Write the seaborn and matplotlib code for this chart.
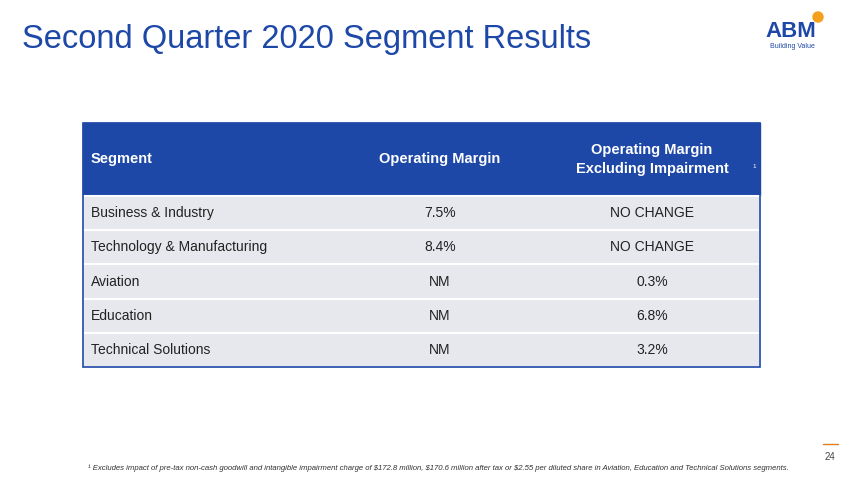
import matplotlib
matplotlib.use("Agg")
import matplotlib.pyplot as plt
import seaborn as sns
from matplotlib.patches import Rectangle, Circle

# Table contents
segments = ["Business & Industry", "Technology & Manufacturing", "Aviation",
            "Education", "Technical Solutions"]
operating_margin = ["7.5%", "8.4%", "NM", "NM", "NM"]
margin_ex_impairment = ["NO CHANGE", "NO CHANGE", "0.3%", "6.8%", "3.2%"]
headers = ["Segment", "Operating Margin", "Operating Margin\nExcluding Impairment"]

TITLE = "Second Quarter 2020 Segment Results"
FOOTNOTE = ("¹ Excludes impact of pre-tax non-cash goodwill and intangible impairment charge of "
            "$172.8 million, $170.6 million after tax or $2.55 per diluted share in Aviation, "
            "Education and Technical Solutions segments.")
PAGE = "24"

BLUE = "#1d48a8"
ROW_FILL = "#e7e8ee"

sns.set_theme(style="white")
plt.rcParams["font.family"] = ["Liberation Sans", "DejaVu Sans"]

fig = plt.figure(figsize=(8.5, 4.79), dpi=100)
ax = fig.add_axes([0, 0, 1, 1])
ax.set_xlim(0, 850)
ax.set_ylim(479, 0)
ax.axis("off")

# title and logo
ax.text(22, 39, TITLE, color=BLUE, fontsize=23.5, va="center", ha="left")
ax.text(791, 31, "ABM", color=BLUE, fontsize=16, fontweight="bold", ha="center", va="center")
ax.add_patch(Circle((818, 17), 5, color="#f5a01a"))
ax.text(792, 46.5, "Building Value", color=BLUE, fontsize=5, ha="center", va="center")

# table geometry
left, right = 83, 760
head_top, head_bot = 123, 196
row_h = 34.2
col_x = [91, 440, 652]

ax.add_patch(Rectangle((left, head_top), right - left, head_bot - head_top, color=BLUE))
ax.text(col_x[0], 159.5, headers[0], color="white", fontsize=10.5, fontweight="bold",
        ha="left", va="center")
ax.text(col_x[1], 159.5, headers[1], color="white", fontsize=10.5, fontweight="bold",
        ha="center", va="center")
ax.text(col_x[2], 159.5, headers[2], color="white", fontsize=10.5, fontweight="bold",
        ha="center", va="center", linespacing=1.4)
ax.text(752, 166, "1", color="white", fontsize=4.5, ha="left", va="center")

for i, (seg, om, ex) in enumerate(zip(segments, operating_margin, margin_ex_impairment)):
    y0 = head_bot + i * row_h
    ax.add_patch(Rectangle((left, y0), right - left, row_h, facecolor=ROW_FILL,
                           edgecolor="white", lw=1.5))
    yc = y0 + row_h / 2
    ax.text(col_x[0], yc, seg, fontsize=10, color="#222222", ha="left", va="center")
    ax.text(col_x[1], yc, om, fontsize=10, color="#222222", ha="center", va="center")
    ax.text(col_x[2], yc, ex, fontsize=10, color="#222222", ha="center", va="center")

bottom = head_bot + len(segments) * row_h
ax.add_patch(Rectangle((left, head_top), right - left, bottom - head_top, fill=False,
                       edgecolor=BLUE, lw=1.2))

# footnote and page number
ax.text(88, 468, FOOTNOTE, fontsize=5.6, style="italic", color="#333333", ha="left", va="center")
ax.plot([823, 838], [444, 444], color="#e07b20", lw=1)
ax.text(830, 457, PAGE, fontsize=7, color="#444444", ha="center", va="center")

fig.savefig("out.png", dpi=100, facecolor="white")
